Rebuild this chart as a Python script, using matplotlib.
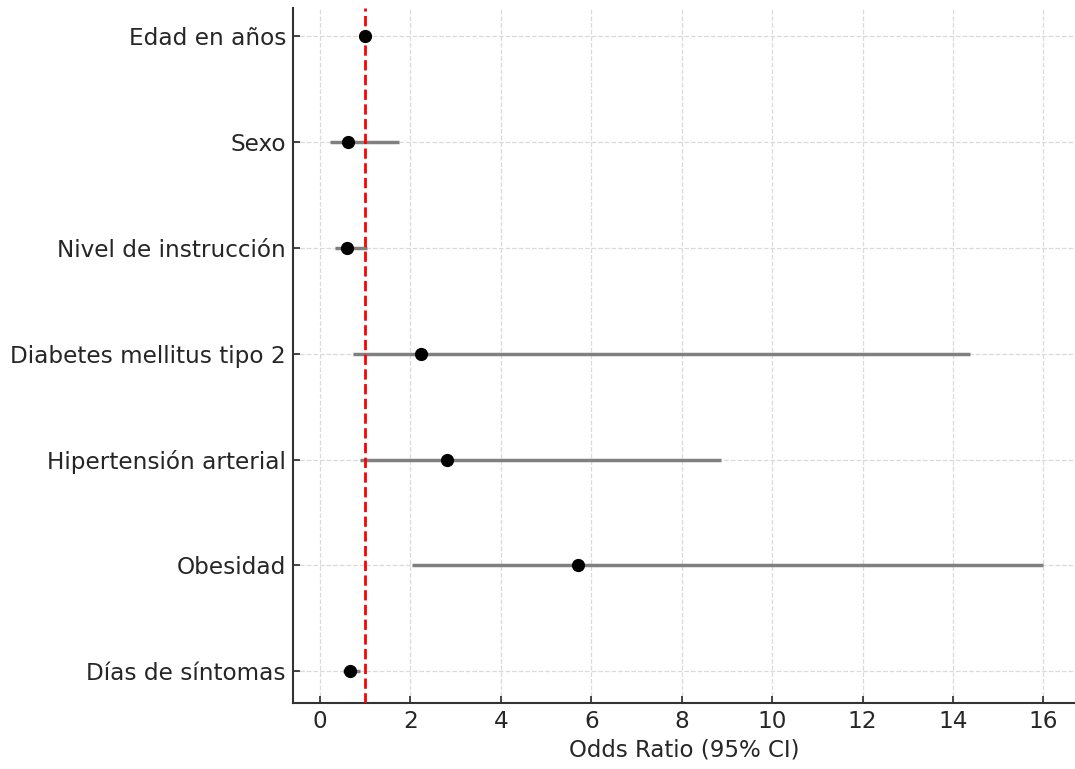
import matplotlib.pyplot as plt
import numpy as np

variables = ["Edad en años", "Sexo", "Nivel de instrucción", "Diabetes mellitus tipo 2",
             "Hipertensión arterial", "Obesidad", "Días de síntomas"]
odds_ratio = [1.00, 0.62, 0.60, 2.23, 2.81, 5.70, 0.67]
ci_low = [0.98, 0.21, 0.33, 0.73, 0.88, 2.03, 0.51]
ci_high = [1.03, 1.75, 1.03, 14.37, 8.88, 16.00, 0.89]


def main():
    fig = plt.figure(figsize=(10.75, 7.69), dpi=100)
    ax = fig.add_axes([0.2725, 0.086, 0.7275, 0.904])

    y = np.arange(len(variables))[::-1]

    ax.hlines(y, ci_low, ci_high, color="gray", linewidth=2.5, zorder=2)
    ax.axvline(1, color="red", linestyle="--", linewidth=2, zorder=3)
    ax.plot(odds_ratio, y, "o", color="black", markersize=8.5, zorder=4)

    ax.set_yticks(y)
    ax.set_yticklabels(variables)
    ax.set_xticks(range(0, 17, 2))
    ax.set_xlim(-0.6, 16.7)
    ax.set_ylim(-0.30, 6.27)
    ax.set_xlabel("Odds Ratio (95% CI)", fontsize=16.5, color="#262626", labelpad=4)

    ax.grid(True, linestyle="--", color="#dadada", linewidth=0.9, zorder=0)
    ax.set_axisbelow(True)

    ax.tick_params(axis="both", labelsize=16.7, colors="#262626", direction="in",
                   length=5, width=1.2, pad=5)
    for side in ["top", "right"]:
        ax.spines[side].set_visible(False)
    for side in ["left", "bottom"]:
        ax.spines[side].set_color("#333333")
        ax.spines[side].set_linewidth(1.5)

    fig.savefig("out.png", dpi=100)


if __name__ == "__main__":
    main()
